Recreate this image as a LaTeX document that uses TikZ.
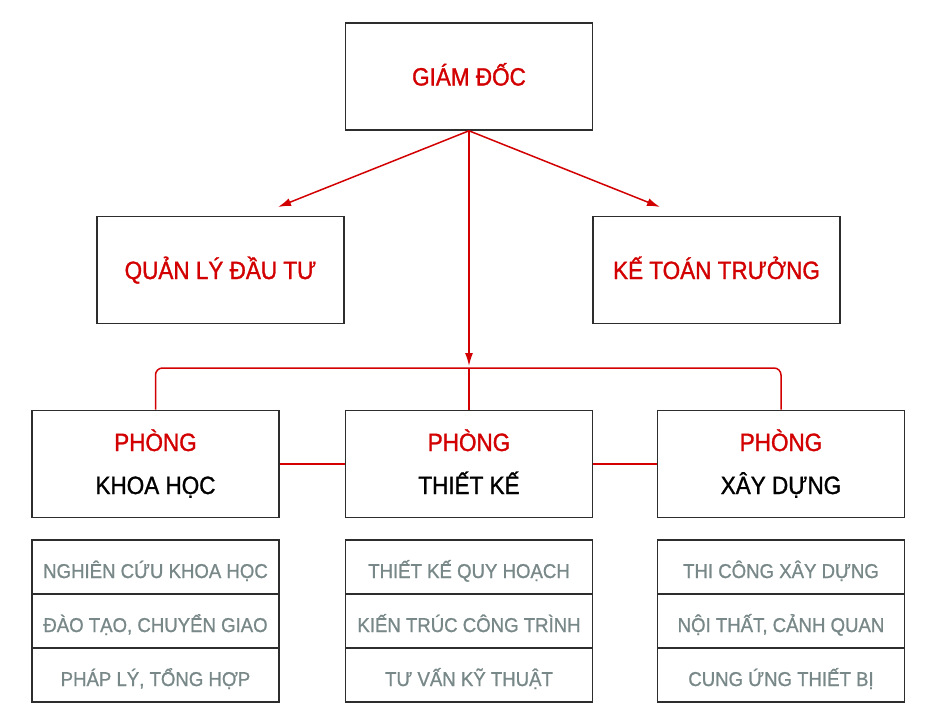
\documentclass[tikz,border=0pt]{standalone}
\usepackage{fontspec}
\setmainfont{Liberation Sans}[FakeStretch=0.9, FakeBold=1.2]
\newfontfamily\chudong{Liberation Sans}[FakeStretch=0.93, FakeBold=1.0]
\usetikzlibrary{arrows.meta,positioning}
\definecolor{chudo}{RGB}{210,0,0}
\definecolor{vien}{RGB}{45,45,45}
\definecolor{chuxam}{RGB}{120,135,135}
\tikzset{
  hop/.style={draw=vien, line width=1.6pt, minimum width=247pt, minimum height=107pt,
    align=center, text=chudo, font=\fontsize{25}{43}\selectfont,
    text height=21pt, text depth=3pt},
  phong/.style={hop, text height=64pt, text depth=4pt},
  dong/.style={draw=vien, line width=1.3pt, minimum width=247pt, minimum height=54pt,
    outer sep=0pt, text=chuxam, font=\chudong\fontsize{20}{22}\selectfont,
    text height=24pt, text depth=2pt},
  noi/.style={draw=chudo, line width=1.5pt},
  mui/.style={-{Latex[length=13pt,width=8pt]}},
}
\begin{document}
\begin{tikzpicture}[x=1pt,y=-1pt]
    \useasboundingbox (0,0) rectangle (938,728);

    % Top level
    \node[hop] (gd) at (469,76.5) {GIÁM ĐỐC};
    \node[hop] (qly) at (220.5,270) {QUẢN LÝ ĐẦU TƯ};
    \node[hop] (ktt) at (716.5,270) {KẾ TOÁN TRƯỞNG};

    % Departments
    \node[phong] (kh) at (155.5,464) {PHÒNG\\\textcolor{black}{KHOA HỌC}};
    \node[phong] (tk) at (469,464) {PHÒNG\\\textcolor{black}{THIẾT KẾ}};
    \node[phong] (xd) at (781,464) {PHÒNG\\\textcolor{black}{XÂY DỰNG}};

    % Task lists
    \node[dong] (kh1) at (155.5,567) {NGHIÊN CỨU KHOA HỌC};
    \node[dong, below=0pt of kh1] (kh2) {ĐÀO TẠO, CHUYỂN GIAO};
    \node[dong, below=0pt of kh2] (kh3) {PHÁP LÝ, TỔNG HỢP};
    \node[dong] (tk1) at (469,567) {THIẾT KẾ QUY HOẠCH};
    \node[dong, below=0pt of tk1] (tk2) {KIẾN TRÚC CÔNG TRÌNH};
    \node[dong, below=0pt of tk2] (tk3) {TƯ VẤN KỸ THUẬT};
    \node[dong] (xd1) at (781,567) {THI CÔNG XÂY DỰNG};
    \node[dong, below=0pt of xd1] (xd2) {NỘI THẤT, CẢNH QUAN};
    \node[dong, below=0pt of xd2] (xd3) {CUNG ỨNG THIẾT BỊ};

    % Connectors
    \coordinate (dq) at (278,207);
    \coordinate (dk) at (660,207);
    \coordinate (bus) at (469,368);
    \draw[noi, mui] (gd.south) -- (dq);
    \draw[noi, mui] (gd.south) -- (dk);
    \draw[noi, mui, shorten >=2pt] (gd.south) -- (bus);
    \draw[noi] (bus) -- (tk.north);
    \draw[noi, rounded corners=7pt] (kh.north) |- (bus) -| (xd.north);
    \draw[noi] (kh.east) -- (tk.west);
    \draw[noi] (tk.east) -- (xd.west);
\end{tikzpicture}
\end{document}
